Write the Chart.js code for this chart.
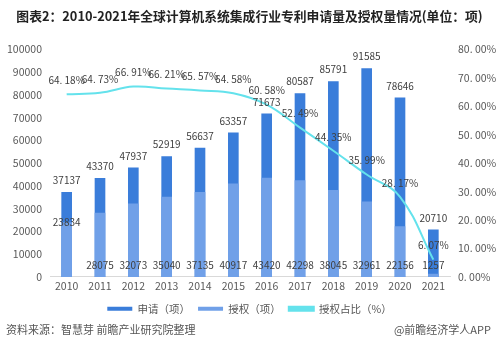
<!DOCTYPE html>
<html>
<head>
<meta charset="utf-8">
<script src="https://cdn.jsdelivr.net/npm/chart.js@4.4.0/dist/chart.umd.min.js"></script>
<style>
  body { margin: 0; background: #fff; font-family: "Noto Sans CJK SC", sans-serif; }
  #wrap { position: relative; width: 499px; height: 324px; }
  #foot { position: absolute; top: 321px; left: 0; width: 499px; height: 20px; font-size: 11px; color: #555; }
  #foot .l { position: absolute; left: 6px; top: 0; }
  #foot .r { position: absolute; right: 8px; top: 0; }
</style>
</head>
<body>
<div id="wrap"><canvas id="c"></canvas></div>
<div id="foot"><span class="l">资料来源：智慧芽 前瞻产业研究院整理</span><span class="r">@前瞻经济学人APP</span></div>
<script>
// data
const years = ['2010', '2011', '2012', '2013', '2014', '2015', '2016', '2017', '2018', '2019', '2020', '2021'];
const applied = [37137, 43370, 47937, 52919, 56637, 63357, 71673, 80587, 85791, 91585, 78646, 20710];
const granted = [23834, 28075, 32073, 35040, 37135, 40917, 43420, 42298, 38045, 32961, 22156, 1257];
const grantRate = [64.18, 64.73, 66.91, 66.21, 65.57, 64.58, 60.58, 52.49, 44.35, 35.99, 28.17, 6.07];

const FONT = '"Noto Sans CJK SC", sans-serif';

function pct(v) {
    // the original renders the dot with a gap after it
    return v.toFixed(2).replace('.', '. ') + '%';
}

// value labels drawn from the element positions
const valueLabels = {
    id: 'valueLabels',
    afterDatasetsDraw(chart) {
        const ctx = chart.ctx;
        const bottom = chart.scales.x.top;
        ctx.save();
        ctx.font = '10px ' + FONT;
        ctx.fillStyle = '#404040';
        ctx.textAlign = 'center';
        ctx.textBaseline = 'middle';
        chart.getDatasetMeta(0).data.forEach(function(el, i) {
            ctx.fillText(applied[i], el.x, el.y - 12);
        });
        chart.getDatasetMeta(1).data.forEach(function(el, i) {
            const y = i === 0 ? el.y : bottom - 12;
            ctx.fillText(granted[i], el.x, y);
        });
        chart.getDatasetMeta(2).data.forEach(function(el, i) {
            ctx.fillText(pct(grantRate[i]), el.x, el.y - 14);
        });
        ctx.restore();
    }
};

new Chart(document.getElementById('c'), {
    data: {
        labels: years,
        datasets: [{
            type: 'bar',
            label: '申请（项）',
            data: applied,
            backgroundColor: 'rgb(58, 125, 218)',
            barThickness: 10,
            grouped: false,
            yAxisID: 'y',
            order: 2
        }, {
            type: 'bar',
            label: '授权（项）',
            data: granted,
            backgroundColor: 'rgb(112, 160, 232)',
            barThickness: 10,
            grouped: false,
            yAxisID: 'y',
            order: 1
        }, {
            type: 'line',
            label: '授权占比（%）',
            data: grantRate,
            borderColor: 'rgb(100, 226, 236)',
            backgroundColor: 'rgb(100, 226, 236)',
            borderWidth: 2,
            tension: 0.4,
            pointRadius: 0,
            yAxisID: 'y1',
            order: 0
        }]
    },
    options: {
        responsive: true,
        maintainAspectRatio: false,
        animation: false,
        layout: { padding: 0 },
        plugins: {
            title: {
                display: true,
                text: '图表2：2010-2021年全球计算机系统集成行业专利申请量及授权量情况(单位：项)',
                align: 'center',
                color: '#222',
                font: { family: FONT, size: 12.8, weight: 'bold' },
                padding: { top: 8, bottom: 26 }
            },
            legend: {
                position: 'bottom',
                labels: {
                    boxWidth: 25,
                    boxHeight: 4,
                    color: '#555',
                    padding: 8,
                    font: { family: FONT, size: 10.5 },
                    sort: function(a, b) { return a.datasetIndex - b.datasetIndex; }
                }
            },
            tooltip: { enabled: false }
        },
        scales: {
            x: {
                grid: { display: false, drawTicks: false },
                border: { color: '#d9d9d9' },
                ticks: { color: '#595959', font: { family: FONT, size: 10.5 }, padding: 3 }
            },
            y: {
                position: 'left',
                min: 0,
                max: 100000,
                ticks: {
                    stepSize: 10000,
                    color: '#595959',
                    font: { family: FONT, size: 10.5 },
                    padding: 8,
                    callback: function(v) { return String(v); }
                },
                grid: { display: false, drawTicks: false },
                border: { display: false },
                afterFit: function(axis) { axis.width = 50; }
            },
            y1: {
                position: 'right',
                min: 0,
                max: 80,
                ticks: {
                    stepSize: 10,
                    color: '#595959',
                    font: { family: FONT, size: 10.5 },
                    padding: 8,
                    callback: function(v) { return pct(v); }
                },
                grid: { display: false, drawTicks: false },
                border: { display: false },
                afterFit: function(axis) { axis.width = 49; }
            }
        }
    },
    plugins: [valueLabels]
});
</script>
</body>
</html>
